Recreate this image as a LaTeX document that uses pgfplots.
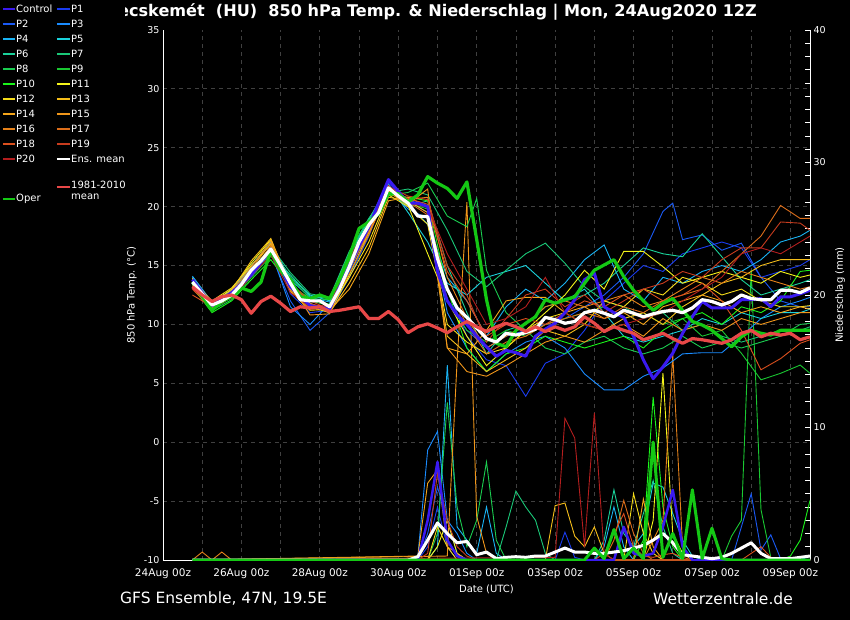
\documentclass[border=0pt]{standalone}
\usepackage{pgfplots}
\usepackage{pgfplotstable}
\pgfplotsset{compat=1.18}
\usepackage{fontspec}
\setmainfont{DejaVu Sans}

\definecolor{cC}{HTML}{3A1AF0}
\definecolor{c1}{HTML}{1A3CF0}
\definecolor{c2}{HTML}{1A5AF5}
\definecolor{c3}{HTML}{1A8CFF}
\definecolor{c4}{HTML}{1AB4F5}
\definecolor{c5}{HTML}{1AD2DC}
\definecolor{c6}{HTML}{1AD29A}
\definecolor{c7}{HTML}{1AC878}
\definecolor{c8}{HTML}{1ACD50}
\definecolor{c9}{HTML}{1AC832}
\definecolor{c10}{HTML}{1AF51A}
\definecolor{c11}{HTML}{F5F51A}
\definecolor{c12}{HTML}{F5DC1A}
\definecolor{c13}{HTML}{F5BE1A}
\definecolor{c14}{HTML}{F5A51A}
\definecolor{c15}{HTML}{F0961A}
\definecolor{c16}{HTML}{E6821A}
\definecolor{c17}{HTML}{DC6E1A}
\definecolor{c18}{HTML}{DC501E}
\definecolor{c19}{HTML}{C83C1E}
\definecolor{c20}{HTML}{B41E1E}
\definecolor{cclim}{HTML}{E84848}
\definecolor{coper}{HTML}{14C814}
\definecolor{gridc}{HTML}{404040}

% 850 hPa temperature of the perturbed members (t = days from 24Aug 00z)
\pgfplotstableread{
t     p1   p2   p3   p4   p5   p6   p7   p8   p9   p10  p11  p12  p13  p14  p15  p16  p17  p18  p19  p20
0.75  13.9 13.5 14.0 14.1 13.7 13.6 13.8 13.5 13.4 13.2 13.9 13.7 13.5 13.3 13.6 13.8 13.0 12.5 13.2 13.0
1.25  11.4 11.8 11.5 11.9 11.6 11.3 11.7 11.2 11.5 11.0 11.8 12.0 11.6 11.4 11.7 11.5 11.3 11.5 11.6 11.8
1.75  12.8 12.2 12.6 12.9 12.4 12.3 12.7 12.1 12.5 12.0 13.0 13.1 12.9 12.6 12.8 12.4 12.3 12.5 12.6 12.2
2.25  14.9 14.3 14.8 15.0 14.4 14.2 14.6 14.0 14.5 13.8 15.2 15.0 15.4 14.7 14.9 14.4 14.6 14.2 14.5 14.1
2.75  16.9 16.0 16.2 17.0 16.5 16.1 16.6 15.8 16.3 15.5 17.2 16.8 17.3 16.9 17.1 16.7 16.5 16.2 16.4 15.9
3.25  12.6 12.0 11.5 13.8 14.0 14.2 14.4 14.0 13.5 13.3 13.0 12.8 13.2 13.6 13.4 12.9 13.1 13.3 13.5 12.7
3.75  11.0 9.5  10.0 12.3 12.5 12.4 12.6 12.2 12.0 12.2 11.5 11.2 11.6 11.8 10.8 11.3 11.4 11.7 12.0 11.5
4.25  11.2 11.0 11.8 11.9 12.0 12.2 12.3 12.1 11.6 11.7 11.0 11.3 11.0 11.2 10.9 11.4 11.2 11.5 11.3 11.6
4.75  14.5 14.0 14.6 15.5 15.8 16.0 16.2 15.8 15.1 15.4 14.2 14.0 13.5 13.0 14.8 14.3 14.7 15.0 15.2 15.6
5.25  18.0 17.5 18.2 18.8 18.9 19.0 19.0 18.7 18.3 18.6 17.8 17.0 16.5 16.0 17.8 17.6 18.0 18.2 18.4 18.6
5.75  22.0 21.8 21.5 21.7 21.9 21.4 21.2 21.0 21.3 21.0 21.4 21.0 20.8 20.5 21.2 21.5 21.3 21.6 21.7 21.8
6.25  20.5 20.6 19.8 20.2 19.5 20.0 21.5 21.2 20.3 20.8 20.1 20.0 20.5 20.8 20.2 20.6 20.4 20.7 20.9 20.3
6.75  19.5 20.0 19.0 18.5 17.0 20.5 21.0 22.0 19.8 20.5 16.0 18.5 19.5 20.0 21.5 20.8 19.3 20.2 20.6 20.0
7.25  13.0 12.0 11.0 14.0 13.5 15.0 18.0 19.2 12.0 13.0 12.0 10.0 9.0  8.0  8.0  14.0 13.0 14.5 15.0 16.0
7.75  9.0  9.5  8.0  12.0 12.5 11.0 14.5 18.3 9.5  8.0  9.0  8.5  7.5  7.5  6.0  10.5 10.0 12.0 12.5 13.0
8.0   nan  nan  nan  nan  nan  nan  nan  20.7 nan  nan  nan  nan  nan  nan  nan  nan  nan  nan  nan  nan
8.25  7.0  8.0  6.0  9.0  14.0 7.5  13.2 14.6 8.5  6.0  6.5  7.5  6.0  9.5  5.6  8.0  7.5  9.0  8.5  10.0
8.75  6.5  9.0  7.5  11.5 14.5 9.5  14.6 11.0 9.5  7.5  8.0  8.0  7.0  12.0 6.5  9.0  8.5  10.0 10.5 10.5
9.25  3.9  9.5  8.5  13.0 15.0 10.0 16.0 9.5  9.0  8.0  9.5  9.5  8.0  12.3 7.5  10.0 9.0  10.5 12.5 11.5
9.75  6.7  10.0 9.0  12.0 13.5 11.5 16.9 8.0  10.0 9.0  11.0 10.5 9.5  12.3 8.5  11.5 10.0 10.0 13.0 14.0
10.25 7.5  10.5 8.0  13.5 12.0 12.0 15.2 7.5  10.5 8.5  12.5 11.0 9.0  11.0 9.0  12.0 10.5 11.0 11.5 11.0
10.75 9.5  11.5 5.8  15.5 13.0 12.5 13.2 8.5  11.0 8.0  14.6 10.0 10.0 11.5 8.5  11.5 11.0 12.0 12.5 10.0
11.25 12.0 12.5 4.45 16.75 11.0 13.5 12.0 9.0 11.5 8.5  13.0 12.0 9.5  10.5 9.5  12.0 10.5 11.5 11.0 9.5
11.75 13.5 14.0 4.45 13.0 9.0  15.0 11.5 8.0  10.5 9.0  16.2 11.5 10.5 11.0 10.0 12.5 11.5 12.5 12.0 10.0
12.25 15.0 16.0 5.6  12.0 8.5  16.5 10.5 7.5  11.0 8.0  16.2 13.0 11.0 10.0 9.0  11.5 11.0 13.0 13.0 10.5
12.75 14.5 19.6 6.3  14.0 9.0  16.0 11.0 8.0  10.0 9.5  14.9 12.5 10.0 11.5 10.5 12.0 12.0 12.0 13.5 11.0
13.0  nan  20.3 nan  nan  nan  nan  nan  nan  nan  nan  nan  nan  nan  nan  nan  nan  nan  nan  nan  nan
13.25 16.0 17.2 7.5  13.5 9.5  15.75 9.5 9.0  10.5 10.5 13.5 14.0 11.5 12.0 9.5  13.0 12.5 12.5 14.5 12.0
13.75 16.5 17.6 7.6  14.5 10.5 17.7 10.0 8.0  9.0  11.0 14.0 13.5 12.5 12.5 10.0 14.0 13.0 13.5 14.0 13.0
14.25 17.0 16.3 7.6  15.0 10.0 15.75 9.0 8.5  9.5  10.0 14.5 12.5 13.5 12.0 9.5  13.5 14.5 12.0 15.5 14.0
14.75 16.5 16.9 9.0  14.5 11.0 13.8 8.5  8.0  7.55 11.5 14.0 13.0 14.0 11.0 10.5 14.5 16.0 9.5  16.5 16.0
15.25 14.0 14.0 10.5 15.5 10.5 12.5 9.0  8.5  5.3  11.0 13.5 12.0 15.0 11.5 10.0 14.0 17.5 6.15 16.5 16.5
15.75 14.5 12.0 11.5 17.0 11.0 13.0 9.5  9.0  5.85 12.0 14.5 11.5 15.5 11.0 10.5 13.5 20.1 7.1  18.7 16.0
16.25 15.0 11.5 12.0 17.5 11.0 13.5 9.5  10.0 6.55 14.5 14.0 11.5 15.5 11.5 11.0 13.0 19.0 8.4  18.6 17.0
16.5  15.5 11.5 12.3 18.0 11.3 13.8 9.8  10.1 5.85 14.6 14.2 11.6 15.5 11.3 11.0 13.2 19.0 8.7  18.0 17.5
}\temps

\tikzset{thin member/.style={line width=0.9pt},
         thick member/.style={line width=3.2pt, line join=round}}

\begin{document}
\begin{tikzpicture}[x=1pt,y=1pt]
\fill[black] (-163,-60) rectangle (687,560);
\path[use as bounding box] (-163,-60) rectangle (687,560);

\node[anchor=east, white, inner sep=0pt, font=\bfseries\fontsize{16.1}{18}\selectfont]
  at (594,548) {Kecskemét\ \ (HU)\ \ 850 hPa Temp. \& Niederschlag | Mon, 24Aug2020 12Z};

% grid only
\begin{axis}[at={(0,0)}, anchor=south west, scale only axis,
  width=647pt, height=530pt,
  xmin=0, xmax=16.5, ymin=-10, ymax=35,
  xtick={0,2,...,16}, minor xtick={1,3,...,15},
  ytick={-5,0,...,30},
  xticklabels={}, yticklabels={},
  major tick length=0pt, minor tick length=0pt,
  axis line style={draw=none},
  xmajorgrids, xminorgrids, ymajorgrids,
  grid style={gridc, line width=0.8pt, dash pattern=on 4pt off 4pt},
  minor grid style={gridc, line width=0.8pt, dash pattern=on 4pt off 4pt}]
\addplot[draw=none] coordinates {(0,0)};
\end{axis}

% precipitation, right axis
\begin{axis}[at={(0,0)}, anchor=south west, scale only axis,
  width=647pt, height=530pt,
  xmin=0, xmax=16.5, ymin=0, ymax=40,
  axis x line*=bottom, axis y line*=right,
  axis line style={white, line width=1pt, -},
  xtick={0,2,...,16},
  xticklabels={24Aug 00z,26Aug 00z,28Aug 00z,30Aug 00z,01Sep 00z,03Sep 00z,05Sep 00z,07Sep 00z,09Sep 00z},
  xtick style={draw=none},
  ytick={0,10,...,40}, minor ytick={1,...,39},
  tick align=inside, major tick length=5pt, minor tick length=5pt,
  ytick style={white, line width=0.8pt},
  /pgf/number format/assume math mode=true,
  xticklabel style={white, font=\fontsize{10.5}{12}\selectfont, yshift=-5pt},
  yticklabel style={white, font=\fontsize{9.5}{11}\selectfont},
  xlabel={Date (UTC)}, ylabel={Niederschlag (mm)},
  xlabel style={white, font=\fontsize{10}{12}\selectfont, at={(axis description cs:0.5,-0.0547)}, anchor=center},
  ylabel style={white, font=\fontsize{10}{12}\selectfont, at={(axis description cs:1.0464,0.5)}, anchor=center},
  no markers, clip=true]
\addplot[c1, thin member] coordinates {(0.75,0)(6.5,0)(6.75,1.0)(7.0,4.0)(7.25,1.0)(7.5,0)(10.0,0)(10.25,2.1)(10.5,0.2)(10.75,0)(16.5,0)};
\addplot[c2, thin member] coordinates {(0.75,0)(6.5,0)(6.75,2.0)(7.0,5.5)(7.25,3.0)(7.5,0.5)(7.75,0)(14.5,0)(14.75,2.5)(15.0,5.0)(15.25,0.75)(15.5,1.9)(15.75,0.1)(16.5,0)};
\addplot[c3, thin member] coordinates {(0.75,0)(6.25,0)(6.5,0.3)(6.75,8.3)(7.0,9.7)(7.25,3.0)(7.5,2.0)(7.75,0.5)(8.0,0)(16.5,0)};
\addplot[c4, thin member] coordinates {(0.75,0)(6.75,0)(7.0,1.0)(7.25,14.7)(7.5,2.5)(7.75,1.5)(8.0,0.5)(8.25,4.0)(8.5,0.5)(8.75,0)(11.0,0)(11.25,1.0)(11.5,4.0)(11.75,1.0)(12.0,0)(16.5,0)};
\addplot[c5, thin member] coordinates {(0.75,0)(11.75,0)(12.0,1.0)(12.25,2.0)(12.5,5.8)(12.75,5.5)(13.0,3.5)(13.25,1.5)(13.5,0.3)(13.75,0)(16.25,0)(16.5,0.3)};
\addplot[c6, thin member] coordinates {(0.75,0)(11.0,0)(11.25,1.5)(11.5,5.3)(11.75,2.0)(12.0,1.0)(12.25,3.5)(12.5,6.0)(12.75,2.5)(13.0,0.5)(13.25,0)(16.5,0)};
\addplot[c7, thin member] coordinates {(0.75,0)(8.5,0)(8.75,2.5)(9.0,5.2)(9.25,4.0)(9.5,3.0)(9.75,0.5)(10.0,0)(16.5,0)};
\addplot[c8, thin member] coordinates {(0.75,0)(6.75,0)(7.0,2.0)(7.25,11.9)(7.5,4.0)(7.75,1.0)(8.0,3.0)(8.25,7.4)(8.5,1.5)(8.75,0)(16.5,0)};
\addplot[c9, thin member] coordinates {(0.75,0)(14.25,0)(14.5,1.8)(14.75,3.0)(15.0,21.9)(15.25,3.8)(15.5,0.2)(15.75,0)(16.5,0)};
\addplot[c10, thin member] coordinates {(0.75,0)(12.0,0)(12.25,1.5)(12.5,12.3)(12.75,4.0)(13.0,1.0)(13.25,0)(15.75,0)(16.0,0.3)(16.25,1.5)(16.5,4.5)};
\addplot[c11, thin member] coordinates {(0.75,0)(6.75,0)(7.0,1.0)(7.25,3.0)(7.5,0.5)(7.75,0)(12.25,0)(12.5,3.0)(12.75,14.1)(13.0,2.0)(13.25,0.5)(13.5,0)(16.5,0)};
\addplot[c12, thin member] coordinates {(0.75,0)(6.75,0)(7.0,2.5)(7.25,1.0)(7.5,0)(11.75,0)(12.0,5.0)(12.25,2.0)(12.5,0.5)(12.75,0)(16.5,0)};
\addplot[c13, thin member] coordinates {(0.75,0)(9.75,0)(10.0,4.1)(10.25,4.3)(10.5,1.8)(10.75,1.0)(11.0,2.5)(11.25,0.5)(11.5,0)(16.5,0)};
\addplot[c14, thin member] coordinates {(0.75,0)(6.5,0.3)(6.75,5.8)(7.0,6.8)(7.25,1.0)(7.5,0.5)(7.75,0)(12.0,0)(12.25,4.6)(12.5,1.0)(12.75,0)(16.5,0)};
\addplot[c15, thin member] coordinates {(0.75,0)(7.25,0.3)(7.5,15.0)(7.75,27.0)(8.0,3.3)(8.25,0.5)(8.5,0)(16.5,0)};
\addplot[c16, thin member] coordinates {(0.75,0)(1.0,0.6)(1.25,0)(1.5,0.6)(1.75,0)(6.0,0)(6.25,0.15)(6.5,0)(12.25,0)(12.5,1.5)(12.75,3.0)(13.0,15.5)(13.25,1.0)(13.5,0)(16.5,0)};
\addplot[c17, thin member] coordinates {(0.75,0)(11.25,0)(11.5,1.5)(11.75,4.5)(12.0,2.0)(12.25,0.5)(12.5,0)(16.5,0)};
\addplot[c18, thin member] coordinates {(0.75,0)(11.0,0)(11.25,0.5)(11.5,2.0)(11.75,3.5)(12.0,1.0)(12.25,0.3)(12.5,0.2)(12.75,0.4)(13.0,0.5)(13.25,0.2)(13.5,0)(14.75,0)(15.0,0.5)(15.25,1.0)(15.5,0.2)(15.75,0)(16.5,0)};
\addplot[c19, thin member] coordinates {(0.75,0)(6.5,0)(6.75,0.5)(7.0,6.6)(7.25,3.0)(7.5,1.0)(7.75,0.3)(8.0,0)(16.5,0)};
\addplot[c20, thin member] coordinates {(0.75,0)(10.0,0.2)(10.25,10.7)(10.5,9.2)(10.75,1.0)(11.0,11.1)(11.25,0.5)(11.5,0)(16.5,0)};
% control
\addplot[cC, line width=2.5pt, line join=round] coordinates {(0.75,0)(6.5,0)(6.75,3.0)(7.0,7.4)(7.25,1.5)(7.5,0.3)(7.75,0)(11.5,0)(11.75,2.5)(12.0,0.5)(12.25,0.3)(12.5,0.5)(12.75,2.5)(13.0,5.3)(13.25,1.0)(13.5,0)(16.5,0)};
% ensemble mean
\addplot[white, line width=3pt, line join=round] coordinates {(0.75,0)(6.25,0)(6.5,0.25)(6.75,1.5)(7.0,2.8)(7.25,2.0)(7.5,1.3)(7.75,1.4)(8.0,0.4)(8.25,0.6)(8.5,0.1)(8.75,0.2)(9.0,0.25)(9.25,0.2)(9.5,0.3)(9.75,0.3)(10.0,0.6)(10.25,0.9)(10.5,0.6)(10.75,0.6)(11.0,0.5)(11.25,0.5)(11.5,0.6)(11.75,0.7)(12.0,0.9)(12.25,1.1)(12.5,1.5)(12.75,2.0)(13.0,1.3)(13.25,0.4)(13.5,0.3)(13.75,0.2)(14.0,0.1)(14.25,0.2)(14.5,0.5)(14.75,0.9)(15.0,1.3)(15.25,0.5)(15.5,0.1)(15.75,0.1)(16.0,0.1)(16.25,0.2)(16.5,0.3)};
% oper
\addplot[coper, line width=3pt, line join=round] coordinates {(0.75,0)(10.75,0)(11.0,0.9)(11.25,0.1)(11.5,2.3)(11.75,0.1)(12.0,0.9)(12.25,0.1)(12.5,8.9)(12.75,0.2)(13.0,2.0)(13.25,0.1)(13.5,5.3)(13.75,0.1)(14.0,2.4)(14.25,0.1)(14.5,0)(16.5,0)};
\end{axis}

% temperature, left axis
\begin{axis}[at={(0,0)}, anchor=south west, scale only axis,
  width=647pt, height=530pt,
  xmin=0, xmax=16.5, ymin=-10, ymax=35,
  hide x axis, axis y line*=left,
  axis line style={white, line width=1pt, -},
  ytick={-10,-5,...,35}, major tick length=0pt,
  /pgf/number format/assume math mode=true,
  yticklabel style={white, font=\fontsize{9.5}{11}\selectfont},
  ylabel={850 hPa Temp. (°C)},
  ylabel style={white, font=\fontsize{10}{12}\selectfont, at={(axis description cs:-0.048,0.5)}, anchor=center},
  no markers, clip=true]
\foreach \m in {1,...,20} {
  \edef\temp{\noexpand\addplot[c\m, thin member] table[x=t, y=p\m] {\noexpand\temps};}
  \temp
}
% control
\addplot[cC, line width=3pt, line join=round] coordinates {(0.75,13.8)(1.25,11.6)(1.75,12.7)(2.25,14.2)(2.75,16.4)(3.25,13.2)(3.75,11.6)(4.25,11.3)(4.75,15.0)(5.25,18.3)(5.75,22.3)(6.25,20.3)(6.5,20.3)(6.75,20.0)(7.0,14.5)(7.25,12.0)(7.5,10.8)(7.75,10.0)(8.0,9.0)(8.25,8.1)(8.5,7.3)(8.75,7.8)(9.0,7.6)(9.25,7.3)(9.5,9.0)(9.75,9.6)(10.0,10.1)(10.25,11.0)(10.5,12.1)(10.75,13.8)(11.0,14.35)(11.25,11.5)(11.5,11.0)(11.75,10.6)(12.0,9.0)(12.25,7.0)(12.5,5.4)(12.75,6.4)(13.0,7.55)(13.25,9.25)(13.5,10.65)(13.75,11.95)(14.0,11.4)(14.25,11.4)(14.5,11.4)(14.75,12.1)(15.0,12.1)(15.25,12.2)(15.5,11.5)(15.75,12.35)(16.0,12.35)(16.25,12.6)(16.5,12.9)};
% oper
\addplot[coper, thick member] coordinates {(0.75,13.6)(1.25,11.2)(1.5,11.95)(1.75,12.35)(2.0,13.1)(2.25,12.8)(2.5,13.6)(2.75,16.3)(3.0,14.6)(3.25,13.8)(3.5,12.35)(3.75,12.2)(4.0,12.5)(4.25,12.2)(4.5,13.8)(4.75,15.75)(5.0,18.15)(5.25,18.7)(5.5,19.4)(5.75,21.1)(6.0,21.1)(6.25,20.4)(6.5,21.0)(6.75,22.55)(7.0,22.0)(7.25,21.55)(7.5,20.7)(7.75,22.1)(8.0,17.2)(8.25,12.1)(8.5,8.4)(8.75,8.1)(9.0,9.5)(9.25,10.1)(9.5,10.65)(9.75,12.1)(10.0,11.8)(10.25,12.1)(10.5,12.35)(10.75,13.5)(11.0,14.6)(11.25,15.05)(11.5,15.5)(11.75,14.05)(12.0,12.9)(12.25,12.0)(12.5,11.2)(12.75,11.8)(13.0,12.2)(13.25,11.2)(13.5,10.25)(13.75,9.95)(14.0,9.5)(14.25,8.8)(14.5,8.1)(14.75,8.95)(15.0,9.5)(15.25,9.25)(15.5,9.1)(15.75,9.5)(16.0,9.5)(16.5,9.5)};
% ensemble mean
\addplot[white, thick member] coordinates {(0.75,13.6)(1.0,12.6)(1.25,11.65)(1.5,12.0)(1.75,12.5)(2.0,13.4)(2.25,14.6)(2.5,15.4)(2.75,16.4)(3.0,15.0)(3.25,13.5)(3.5,12.1)(3.75,12.0)(4.0,12.0)(4.25,11.5)(4.5,13.0)(4.75,14.9)(5.0,17.0)(5.25,18.45)(5.5,19.5)(5.75,21.6)(6.0,20.9)(6.25,20.3)(6.5,19.2)(6.75,19.15)(7.0,15.6)(7.25,13.0)(7.5,11.4)(7.75,10.6)(8.0,9.7)(8.25,8.8)(8.5,8.5)(8.75,9.25)(9.0,9.1)(9.25,9.3)(9.5,9.6)(9.75,10.6)(10.0,10.4)(10.25,10.1)(10.5,10.25)(10.75,11.0)(11.0,11.2)(11.25,10.95)(11.5,10.65)(11.75,11.2)(12.0,10.95)(12.25,10.65)(12.5,10.9)(12.75,11.1)(13.0,11.2)(13.25,11.0)(13.5,11.4)(13.75,12.1)(14.0,11.95)(14.25,11.65)(14.5,11.95)(14.75,12.5)(15.0,12.2)(15.25,12.1)(15.5,12.1)(15.75,12.9)(16.0,12.9)(16.25,12.7)(16.5,13.1)};
% 1981-2010 mean
\addplot[cclim, thick member] coordinates {(0.75,13.2)(1.0,12.5)(1.25,11.95)(1.5,12.35)(1.75,12.5)(2.0,12.1)(2.25,10.95)(2.5,11.95)(2.75,12.4)(3.0,11.8)(3.25,11.1)(3.5,11.5)(3.75,11.4)(4.0,11.5)(4.25,11.1)(4.5,11.2)(4.75,11.35)(5.0,11.5)(5.25,10.5)(5.5,10.5)(5.75,11.1)(6.0,10.4)(6.25,9.3)(6.5,9.8)(6.75,10.05)(7.0,9.7)(7.25,9.3)(7.5,9.8)(7.75,10.25)(8.0,9.8)(8.25,9.4)(8.5,9.8)(8.75,10.1)(9.0,9.8)(9.25,9.4)(9.5,9.8)(9.75,9.4)(10.0,9.8)(10.25,9.5)(10.5,9.8)(10.75,10.65)(11.0,10.1)(11.25,9.4)(11.5,9.8)(11.75,9.5)(12.0,9.25)(12.25,8.7)(12.5,8.97)(12.75,9.25)(13.0,8.8)(13.25,8.4)(13.5,8.8)(13.75,8.7)(14.0,8.55)(14.25,8.4)(14.5,8.7)(14.75,9.25)(15.0,9.5)(15.25,8.95)(15.5,9.25)(15.75,9.1)(16.0,9.25)(16.25,8.7)(16.5,8.95)};
\end{axis}

% legend
\fill[black] (-163,350) rectangle (-38,560);
\begin{scope}[every node/.style={white, anchor=west, inner sep=0pt, font=\fontsize{10}{11}\selectfont}]
\foreach \lab/\col [count=\k from 0] in {Control/cC,P2/c2,P4/c4,P6/c6,P8/c8,P10/c10,P12/c12,P14/c14,P16/c16,P18/c18,P20/c20} {
  \draw[\col, line width=2pt] (-160,551-15*\k) -- (-148,551-15*\k);
  \node at (-147,551-15*\k) {\lab};
}
\foreach \lab/\col [count=\k from 0] in {P1/c1,P3/c3,P5/c5,P7/c7,P9/c9,P11/c11,P13/c13,P15/c15,P17/c17,P19/c19,Ens. mean/white} {
  \draw[\col, line width=2pt] (-106,551-15*\k) -- (-93,551-15*\k);
  \node at (-92,551-15*\k) {\lab};
}
\draw[cclim, line width=2pt] (-106,373) -- (-93,373);
\node[anchor=north west, align=left] at (-92,379) {1981-2010\\mean};
\draw[coper, line width=2pt] (-160,361) -- (-148,361);
\node at (-147,361) {Oper};
\end{scope}

\node[anchor=west, white, inner sep=0pt, font=\fontsize{15.5}{18}\selectfont] at (-43,-39) {GFS Ensemble, 47N, 19.5E};
\node[anchor=east, white, inner sep=0pt, font=\fontsize{15.5}{18}\selectfont] at (630,-39) {Wetterzentrale.de};
\end{tikzpicture}
\end{document}
